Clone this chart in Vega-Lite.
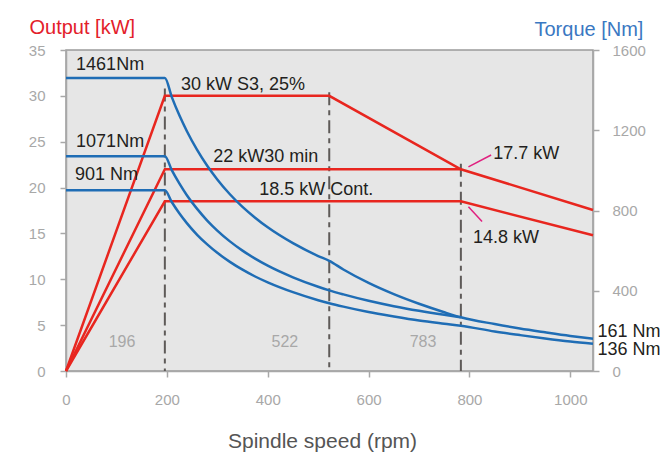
{
  "$schema": "https://vega.github.io/schema/vega-lite/v6.json",
  "width": 527,
  "height": 321,
  "autosize": {"type": "none"},
  "padding": {"left": 66, "top": 50, "right": 72, "bottom": 84},
  "background": "white",
  "config": {
    "font": "Liberation Sans",
    "view": {"fill": "#e6e6e6", "stroke": "#9a9a9a", "strokeWidth": 1.5},
    "axis": {
      "grid": false,
      "domainColor": "#a8a8a8",
      "domainWidth": 1.5,
      "tickColor": "#a8a8a8",
      "tickWidth": 1.5,
      "tickSize": 6,
      "labelColor": "#a8a8a8",
      "labelFontSize": 15,
      "labelFlush": false,
      "format": "d",
      "titleFontWeight": "normal"
    }
  },
  "datasets": {
    "power": [
      {"series": "p1", "rpm": 0, "kW": 0},
      {"series": "p1", "rpm": 196, "kW": 30},
      {"series": "p1", "rpm": 522, "kW": 30},
      {"series": "p1", "rpm": 783, "kW": 22},
      {"series": "p1", "rpm": 1045, "kW": 17.55},
      {"series": "p2", "rpm": 0, "kW": 0},
      {"series": "p2", "rpm": 196, "kW": 22},
      {"series": "p2", "rpm": 783, "kW": 22},
      {"series": "p3", "rpm": 0, "kW": 0},
      {"series": "p3", "rpm": 196, "kW": 18.5},
      {"series": "p3", "rpm": 783, "kW": 18.5},
      {"series": "p3", "rpm": 1045, "kW": 14.8}
    ],
    "torque": [
      {"series": "t1", "rpm": 0, "Nm": 1461},
      {"series": "t1", "rpm": 196, "Nm": 1461},
      {"series": "t1", "rpm": 210, "Nm": 1364},
      {"series": "t1", "rpm": 225, "Nm": 1273},
      {"series": "t1", "rpm": 240, "Nm": 1194},
      {"series": "t1", "rpm": 260, "Nm": 1102},
      {"series": "t1", "rpm": 280, "Nm": 1023},
      {"series": "t1", "rpm": 300, "Nm": 955},
      {"series": "t1", "rpm": 325, "Nm": 881},
      {"series": "t1", "rpm": 350, "Nm": 818},
      {"series": "t1", "rpm": 375, "Nm": 764},
      {"series": "t1", "rpm": 400, "Nm": 716},
      {"series": "t1", "rpm": 450, "Nm": 637},
      {"series": "t1", "rpm": 500, "Nm": 573},
      {"series": "t1", "rpm": 522, "Nm": 549},
      {"series": "t1", "rpm": 550, "Nm": 506},
      {"series": "t1", "rpm": 600, "Nm": 439},
      {"series": "t1", "rpm": 650, "Nm": 383},
      {"series": "t1", "rpm": 700, "Nm": 335},
      {"series": "t1", "rpm": 750, "Nm": 293},
      {"series": "t1", "rpm": 783, "Nm": 268},
      {"series": "t1", "rpm": 850, "Nm": 234},
      {"series": "t1", "rpm": 900, "Nm": 212},
      {"series": "t1", "rpm": 950, "Nm": 193},
      {"series": "t1", "rpm": 1000, "Nm": 175},
      {"series": "t1", "rpm": 1045, "Nm": 161},
      {"series": "t2", "rpm": 0, "Nm": 1071},
      {"series": "t2", "rpm": 196, "Nm": 1071},
      {"series": "t2", "rpm": 210, "Nm": 1000},
      {"series": "t2", "rpm": 225, "Nm": 934},
      {"series": "t2", "rpm": 240, "Nm": 875},
      {"series": "t2", "rpm": 260, "Nm": 808},
      {"series": "t2", "rpm": 280, "Nm": 750},
      {"series": "t2", "rpm": 300, "Nm": 700},
      {"series": "t2", "rpm": 325, "Nm": 646},
      {"series": "t2", "rpm": 350, "Nm": 600},
      {"series": "t2", "rpm": 375, "Nm": 560},
      {"series": "t2", "rpm": 400, "Nm": 525},
      {"series": "t2", "rpm": 450, "Nm": 467},
      {"series": "t2", "rpm": 500, "Nm": 420},
      {"series": "t2", "rpm": 522, "Nm": 402},
      {"series": "t2", "rpm": 550, "Nm": 382},
      {"series": "t2", "rpm": 600, "Nm": 350},
      {"series": "t2", "rpm": 650, "Nm": 323},
      {"series": "t2", "rpm": 700, "Nm": 300},
      {"series": "t2", "rpm": 750, "Nm": 280},
      {"series": "t2", "rpm": 783, "Nm": 268},
      {"series": "t3", "rpm": 0, "Nm": 901},
      {"series": "t3", "rpm": 196, "Nm": 901},
      {"series": "t3", "rpm": 210, "Nm": 841},
      {"series": "t3", "rpm": 225, "Nm": 785},
      {"series": "t3", "rpm": 240, "Nm": 736},
      {"series": "t3", "rpm": 260, "Nm": 679},
      {"series": "t3", "rpm": 280, "Nm": 631},
      {"series": "t3", "rpm": 300, "Nm": 589},
      {"series": "t3", "rpm": 325, "Nm": 544},
      {"series": "t3", "rpm": 350, "Nm": 505},
      {"series": "t3", "rpm": 375, "Nm": 471},
      {"series": "t3", "rpm": 400, "Nm": 442},
      {"series": "t3", "rpm": 450, "Nm": 393},
      {"series": "t3", "rpm": 500, "Nm": 353},
      {"series": "t3", "rpm": 522, "Nm": 338},
      {"series": "t3", "rpm": 550, "Nm": 321},
      {"series": "t3", "rpm": 600, "Nm": 294},
      {"series": "t3", "rpm": 650, "Nm": 272},
      {"series": "t3", "rpm": 700, "Nm": 252},
      {"series": "t3", "rpm": 750, "Nm": 236},
      {"series": "t3", "rpm": 783, "Nm": 226},
      {"series": "t3", "rpm": 850, "Nm": 197},
      {"series": "t3", "rpm": 900, "Nm": 179},
      {"series": "t3", "rpm": 950, "Nm": 162},
      {"series": "t3", "rpm": 1000, "Nm": 147},
      {"series": "t3", "rpm": 1045, "Nm": 136}
    ],
    "rules": [
      {"rpm": 196, "kW": 30.8},
      {"rpm": 522, "kW": 30.4},
      {"rpm": 783, "kW": 22.6}
    ],
    "leaders": [
      {"rpm": 843, "kW": 23.55, "rpm2": 798, "kW2": 22.25},
      {"rpm": 798, "kW": 17.9, "rpm2": 825, "kW2": 16.3}
    ],
    "labels": [
      {"label": "1461Nm", "rpm": 20, "kW": 32.8},
      {"label": "1071Nm", "rpm": 20, "kW": 24.4},
      {"label": "901 Nm", "rpm": 18, "kW": 20.8},
      {"label": "30 kW S3, 25%", "rpm": 228, "kW": 30.6},
      {"label": "22 kW30 min", "rpm": 292, "kW": 22.8},
      {"label": "18.5 kW Cont.", "rpm": 383, "kW": 19.2},
      {"label": "17.7 kW", "rpm": 847, "kW": 23.1},
      {"label": "14.8 kW", "rpm": 807, "kW": 14.0},
      {"label": "161 Nm", "rpm": 1054, "kW": 3.7},
      {"label": "136 Nm", "rpm": 1054, "kW": 1.7}
    ],
    "notes": [
      {"label": "196", "rpm": 111, "kW": 3.15},
      {"label": "522", "rpm": 434, "kW": 3.15},
      {"label": "783", "rpm": 708, "kW": 3.15}
    ]
  },
  "encoding": {
    "x": {
      "field": "rpm",
      "type": "quantitative",
      "scale": {"domain": [0, 1045], "nice": false, "zero": false},
      "axis": {
        "values": [0, 200, 400, 600, 800, 1000],
        "title": "Spindle speed (rpm)",
        "titleFontSize": 21,
        "titleColor": "#555555",
        "titleBaseline": "alphabetic",
        "titleAlign": "center",
        "titleX": 256,
        "titleY": 76,
        "labelPadding": 15
      }
    }
  },
  "layer": [
    {
      "encoding": {
        "y": {
          "field": "kW",
          "type": "quantitative",
          "scale": {"domain": [0, 35], "nice": false},
          "axis": {
            "orient": "left",
            "values": [0, 5, 10, 15, 20, 25, 30, 35],
            "title": "Output [kW]",
            "titleAngle": 0,
            "titleAlign": "left",
            "titleBaseline": "alphabetic",
            "titleX": -37,
            "titleY": -17,
            "titleColor": "#e3202a",
            "titleFontSize": 20,
            "labelPadding": 15
          }
        }
      },
      "layer": [
        {
          "data": {"name": "rules"},
          "mark": {"type": "rule", "color": "#5e5a58", "strokeWidth": 2, "strokeDash": [13, 5, 5, 5]},
          "encoding": {"y2": {"datum": 0}}
        },
        {
          "data": {"name": "power"},
          "mark": {"type": "line", "color": "#e8261f", "strokeWidth": 2.5},
          "encoding": {"detail": {"field": "series"}}
        },
        {
          "data": {"name": "leaders"},
          "mark": {"type": "rule", "color": "#e0207f", "strokeWidth": 1.5},
          "encoding": {"x2": {"field": "rpm2"}, "y2": {"field": "kW2"}}
        },
        {
          "data": {"name": "labels"},
          "mark": {"type": "text", "align": "left", "baseline": "alphabetic", "fontSize": 18, "color": "#231f20"},
          "encoding": {"text": {"field": "label"}}
        },
        {
          "data": {"name": "notes"},
          "mark": {"type": "text", "align": "center", "baseline": "middle", "fontSize": 16, "color": "#a8a8a8"},
          "encoding": {"text": {"field": "label"}}
        }
      ]
    },
    {
      "data": {"name": "torque"},
      "mark": {"type": "line", "color": "#1f6db5", "strokeWidth": 2.5, "interpolate": "monotone"},
      "encoding": {
        "y": {
          "field": "Nm",
          "type": "quantitative",
          "scale": {"domain": [0, 1600], "nice": false},
          "axis": {
            "orient": "right",
            "values": [0, 400, 800, 1200, 1600],
            "title": "Torque [Nm]",
            "titleAngle": 0,
            "titleAlign": "left",
            "titleBaseline": "alphabetic",
            "titleX": -59,
            "titleY": -15,
            "titleColor": "#3a78c2",
            "titleFontSize": 20,
            "labelPadding": 13
          }
        },
        "detail": {"field": "series"}
      }
    }
  ],
  "resolve": {"scale": {"y": "independent"}}
}
